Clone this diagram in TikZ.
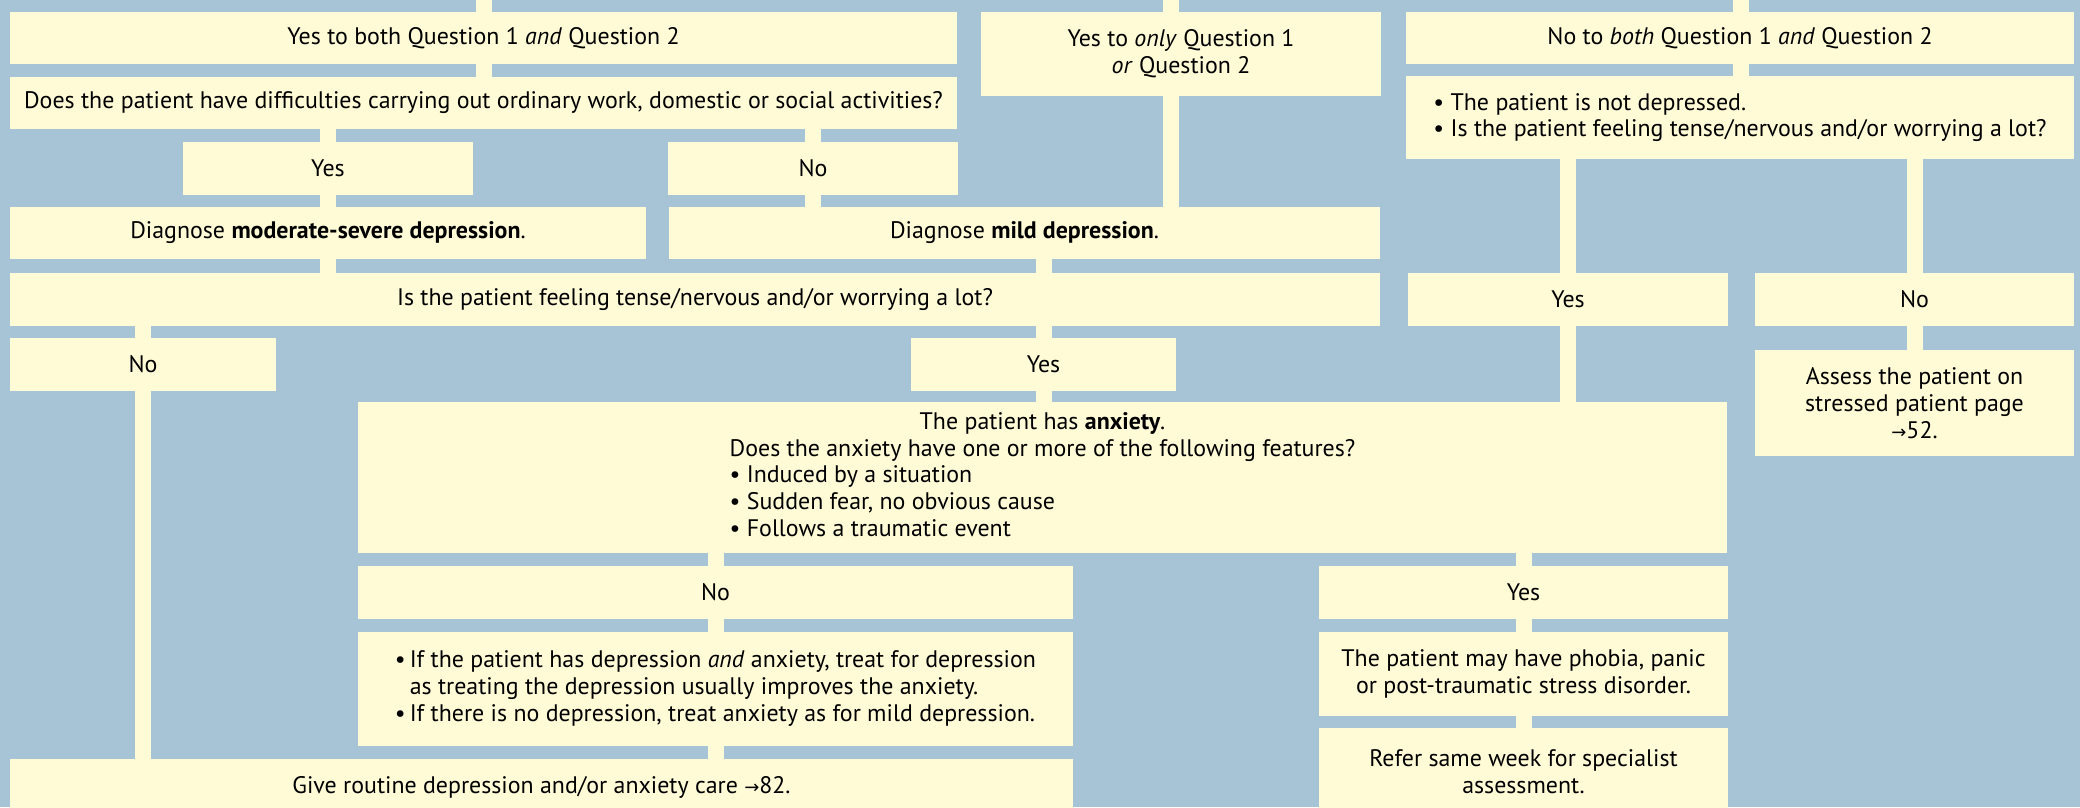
\documentclass[tikz,border=0pt]{standalone}
\usepackage{fontspec}
\setmainfont{PT Sans}
\newfontfamily\symfont{DejaVu Sans}
\definecolor{panel}{HTML}{A7C3D6}
\definecolor{cream}{HTML}{FFFBD6}
\tikzset{
  box/.style={fill=cream, inner sep=0pt, align=center, text=black,
    font=\fontsize{23.9}{26.7}\selectfont},
  link/.style={draw=cream, line width=16pt},
}
\newcommand{\pgref}{{\symfont\fontsize{18}{18}\selectfont →}}
\begin{document}
\begin{tikzpicture}[x=1pt,y=-1pt]
\fill[panel] (0,0) rectangle (2080,807);
\useasboundingbox (0,0) rectangle (2080,807);
\clip (0,0) rectangle (2080,807);

% entry points from above
\coordinate (inA) at (483.5,-20);
\coordinate (inY) at (1171,-20);
\coordinate (inN) at (1741,-20);

% left branch: yes to both
\node[box, minimum width=947pt, minimum height=52pt] (A) at (483.5,38)
  {Yes to both Question 1 \textit{and} Question 2};
\node[box, minimum width=947pt, minimum height=52pt] (B) at (483.5,103)
  {Does the patient have difficulties carrying out ordinary work, domestic or social activities?};
\node[box, minimum width=290pt, minimum height=53pt] (Yes1) at (328,168.5) {Yes};
\node[box, minimum width=290pt, minimum height=53pt] (No1) at (813,168.5) {No};
\node[box, minimum width=636pt, minimum height=52pt] (DiagMod) at (328,233)
  {Diagnose \textbf{moderate-severe depression}.};
\node[box, minimum width=711pt, minimum height=52pt] (DiagMild) at (1024.5,233)
  {Diagnose \textbf{mild depression}.};

% middle branch: yes to one question
\node[box, minimum width=400pt, minimum height=84pt] (Yonly) at (1181,54)
  {Yes to \textit{only} Question 1\\\textit{or} Question 2};

% right branch: no to both
\node[box, minimum width=668pt, minimum height=52pt] (NoBoth) at (1740,38)
  {No to \textit{both} Question 1 \textit{and} Question 2};
\node[box, minimum width=668pt, minimum height=83pt, align=left] (NotDep) at (1740,117.5)
  {• The patient is not depressed.\\• Is the patient feeling tense/nervous and/or worrying a lot?};
\node[box, minimum width=320pt, minimum height=53pt] (Yes2) at (1568,299.5) {Yes};
\node[box, minimum width=319pt, minimum height=53pt] (No2) at (1914.5,299.5) {No};
\node[box, minimum width=319pt, minimum height=106pt] (Assess) at (1914.5,403)
  {Assess the patient on\\stressed patient page\\\pgref52.};

% anxiety question
\node[box, minimum width=1370pt, minimum height=53pt] (IsTense) at (695,299.5)
  {Is the patient feeling tense/nervous and/or worrying a lot?};
\node[box, minimum width=266pt, minimum height=53pt] (No3) at (143,364.5) {No};
\node[box, minimum width=265pt, minimum height=53pt] (Yes3) at (1043.5,364.5) {Yes};
\node[box, minimum width=1369pt, minimum height=151pt] (Anx) at (1042.5,477.5)
  {\begin{tabular}{@{}l@{}}
   \multicolumn{1}{@{}c@{}}{The patient has \textbf{anxiety}.}\\
   Does the anxiety have one or more of the following features?\\
   • Induced by a situation\\
   • Sudden fear, no obvious cause\\
   • Follows a traumatic event
   \end{tabular}};
\node[box, minimum width=715pt, minimum height=53pt] (No4) at (715.5,592.5) {No};
\node[box, minimum width=409pt, minimum height=53pt] (Yes4) at (1523.5,592.5) {Yes};
\node[box, minimum width=715pt, minimum height=114pt] (IfP) at (715.5,689)
  {\begin{tabular}{@{}l@{\,}l@{}}
   • & If the patient has depression \textit{and} anxiety, treat for depression\\
     & as treating the depression usually improves the anxiety.\\
   • & If there is no depression, treat anxiety as for mild depression.
   \end{tabular}};
\node[box, minimum width=409pt, minimum height=84pt] (Phobia) at (1523.5,674)
  {The patient may have phobia, panic\\or post-traumatic stress disorder.};
\node[box, minimum width=409pt, minimum height=88pt] (Refer) at (1523.5,772)
  {Refer same week for specialist\\assessment.};
\node[box, minimum width=1063pt, minimum height=56pt] (Give) at (541.5,787)
  {Give routine depression and/or anxiety care \pgref82.};

% connectors
\draw[link] (inA) -- (A.north);
\draw[link] (A.south) -- (B.north);
\draw[link] (Yes1.north) -- (Yes1.north |- B.south);
\draw[link] (No1.north) -- (No1.north |- B.south);
\draw[link] (Yes1.south) -- (DiagMod.north);
\draw[link] (No1.south) -- (No1.south |- DiagMild.north);
\draw[link] (inY) -- (inY |- Yonly.north);
\draw[link] (inY |- Yonly.south) -- (inY |- DiagMild.north);
\draw[link] (DiagMod.south) -- (DiagMod.south |- IsTense.north);
\draw[link] (Yes3.north |- DiagMild.south) -- (Yes3.north |- IsTense.north);
\draw[link] (No3.north) -- (No3.north |- IsTense.south);
\draw[link] (Yes3.north) -- (Yes3.north |- IsTense.south);
\draw[link] (Yes3.south) -- (Yes3.south |- Anx.north);
\draw[link] (No3.south) -- (No3.south |- Give.north);
\draw[link] (inN) -- (inN |- NoBoth.north);
\draw[link] (inN |- NoBoth.south) -- (inN |- NotDep.north);
\draw[link] (Yes2.north) -- (Yes2.north |- NotDep.south);
\draw[link] (No2.north) -- (No2.north |- NotDep.south);
\draw[link] (Yes2.south) -- (Yes2.south |- Anx.north);
\draw[link] (No2.south) -- (Assess.north);
\draw[link] (No4.north) -- (No4.north |- Anx.south);
\draw[link] (Yes4.north) -- (Yes4.north |- Anx.south);
\draw[link] (No4.south) -- (IfP.north);
\draw[link] (IfP.south) -- (IfP.south |- Give.north);
\draw[link] (Yes4.south) -- (Phobia.north);
\draw[link] (Phobia.south) -- (Refer.north);
\end{tikzpicture}
\end{document}
